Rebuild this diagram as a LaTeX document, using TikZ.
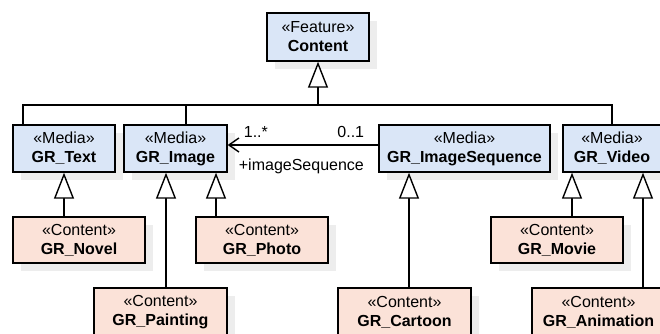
\documentclass[tikz,border=0pt]{standalone}
\usepackage{fontspec}
\setmainfont{Liberation Sans}
\usetikzlibrary{arrows.meta,shadows,calc}

\definecolor{mediafill}{HTML}{DAE6F7}
\definecolor{contentfill}{HTML}{FBE2D8}
\definecolor{shadowgray}{HTML}{EDEDED}

\tikzset{
  umlbox/.style={draw=black, line width=1.4pt, inner sep=0pt, align=center,
    font=\fontsize{16}{19}\selectfont,
    drop shadow={shadow xshift=8pt, shadow yshift=-8pt, fill=shadowgray, opacity=1}},
  media/.style={umlbox, fill=mediafill},
  concrete/.style={umlbox, fill=contentfill},
  wire/.style={draw=black, line width=1.4pt},
  gen/.style={wire, -{Triangle[open, length=26pt, width=20pt, fill=white]}},
  assoc/.style={wire, -{Straight Barb[length=10pt, width=14pt]}},
  lbl/.style={inner sep=0pt, font=\fontsize{16}{19}\selectfont}
}

\begin{document}
\begin{tikzpicture}[x=1pt, y=-1pt]
\useasboundingbox (0,0) rectangle (660,334);
\clip (0,0) rectangle (660,334);

% feature
\node[media, minimum width=102pt, minimum height=48pt] (content) at (318,37)
  {«Feature»\\\textbf{Content}};

% media classes
\node[media, minimum width=102pt, minimum height=47pt] (gtext) at (64,148.5)
  {«Media»\\\textbf{GR\_Text}};
\node[media, minimum width=103pt, minimum height=47pt] (gimage) at (175.5,148.5)
  {«Media»\\\textbf{GR\_Image}};
\node[media, minimum width=171pt, minimum height=47pt] (gseq) at (464.5,148.5)
  {«Media»\\\textbf{GR\_ImageSequence}};
\node[media, minimum width=98pt, minimum height=47pt] (video) at (612,148.5)
  {«Media»\\\textbf{GR\_Video}};

% content classes
\node[concrete, minimum width=132pt, minimum height=46pt] (novel) at (79,240)
  {«Content»\\\textbf{GR\_Novel}};
\node[concrete, minimum width=132pt, minimum height=46pt] (photo) at (262,240)
  {«Content»\\\textbf{GR\_Photo}};
\node[concrete, minimum width=132pt, minimum height=46pt] (movie) at (557,240)
  {«Content»\\\textbf{GR\_Movie}};
\node[concrete, minimum width=133pt, minimum height=48pt] (painting) at (160.5,312)
  {«Content»\\\textbf{GR\_Painting}};
\node[concrete, minimum width=133pt, minimum height=48pt] (cartoon) at (404.5,312)
  {«Content»\\\textbf{GR\_Cartoon}};
\node[concrete, minimum width=133pt, minimum height=48pt] (animation) at (598.5,312)
  {«Content»\\\textbf{GR\_Animation}};

% generalization bus to Content
\coordinate (busy) at (0,105);
\coordinate (dT) at ([xshift=-41pt]gtext.north);
\coordinate (dI) at ([xshift=10.5pt]gimage.north);
\coordinate (dV) at (video.north);
\draw[wire] (dT) -- (dT |- busy) -- (dV |- busy) -- (dV);
\draw[wire] (dI) -- (dI |- busy);
\draw[gen] (content.south |- busy) -- (content.south);

% generalizations to media classes
\coordinate (uN) at (gtext.south);
\coordinate (uP) at ([xshift=-9.5pt]gimage.south);
\coordinate (uH) at ([xshift=40.5pt]gimage.south);
\coordinate (uC) at ([xshift=-55.5pt]gseq.south);
\coordinate (uM) at ([xshift=-40pt]video.south);
\coordinate (uA) at ([xshift=31pt]video.south);
\draw[gen] (uN |- novel.north) -- (uN);
\draw[gen] (uP |- painting.north) -- (uP);
\draw[gen] (uH |- photo.north) -- (uH);
\draw[gen] (uC |- cartoon.north) -- (uC);
\draw[gen] (uM |- movie.north) -- (uM);
\draw[gen] (uA |- animation.north) -- (uA);

% association
\coordinate (aS) at ([yshift=3.5pt]gseq.west);
\coordinate (aE) at (gimage.east |- aS);
\draw[assoc] (aS) -- (aE);
\node[lbl, anchor=west] (m1) at ([xshift=16pt, yshift=13pt]aE) {1..*};
\node[lbl, anchor=east] (m2) at ([xshift=-14pt, yshift=13pt]aS) {0..1};
\node[lbl, anchor=west] (role) at ([xshift=11pt, yshift=-21pt]aE) {+imageSequence};
\end{tikzpicture}
\end{document}
